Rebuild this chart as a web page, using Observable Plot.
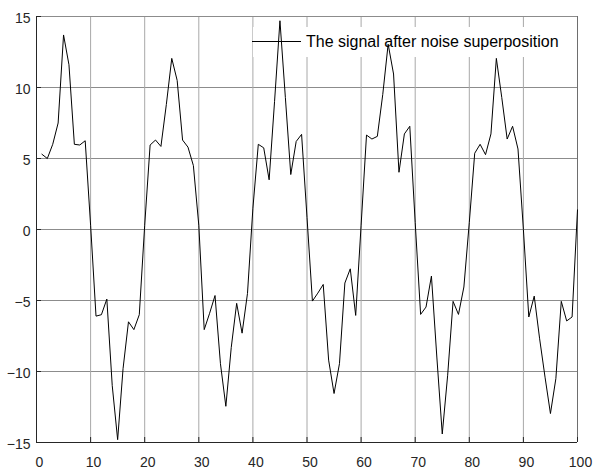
<!DOCTYPE html>
<html>
<head>
<meta charset="utf-8">
<script src="https://cdn.jsdelivr.net/npm/d3@7"></script>
<script src="https://cdn.jsdelivr.net/npm/@observablehq/plot@0.6"></script>
<style>
  html, body { margin: 0; padding: 0; background: #fff; }
  #chart { position: relative; width: 597px; height: 470px; }
  svg { display: block; }
</style>
</head>
<body>
<div id="chart"></div>
<script>
const sampleIndex = d3.range(1, 101);
const signalValues = [
  5.3, 5.0, 6.0, 7.5, 13.7, 11.6, 6.0, 5.95, 6.25, 0.3,
  -6.1, -6.0, -4.9, -11.0, -14.8, -9.8, -6.5, -7.05, -6.0, 0.3,
  5.95, 6.3, 5.85, 8.8, 12.05, 10.5, 6.3, 5.8, 4.5, 0.3,
  -7.05, -5.9, -4.65, -9.45, -12.45, -8.3, -5.2, -7.3, -4.5, 1.5,
  6.0, 5.75, 3.5, 9.0, 14.7, 9.3, 3.87, 6.2, 6.7, 0.85,
  -5.04, -4.48, -3.87, -9.2, -11.55, -9.45, -3.77, -2.77, -6.05, 0.3,
  6.65, 6.37, 6.56, 9.5, 13.05, 10.95, 4.03, 6.73, 7.27, 0.5,
  -5.98, -5.46, -3.28, -8.98, -14.4, -10.26, -5.06, -5.98, -4.05, 0.5,
  5.37, 6.0, 5.27, 6.73, 12.05, 9.3, 6.37, 7.27, 5.67, 0.0,
  -6.16, -4.69, -7.7, -10.4, -12.96, -10.5, -5.06, -6.44, -6.16, 1.38
];
const xTicks = [0, 10, 20, 30, 40, 50, 60, 70, 80, 90, 100];
const yTicks = [-15, -10, -5, 0, 5, 10, 15];
const legendLabel = "The signal after noise superposition";

const data = sampleIndex.map((x, i) => ({x, y: signalValues[i]}));

const font = "'Liberation Sans', Arial, sans-serif";

const chart = Plot.plot({
  width: 597,
  height: 470,
  marginLeft: 36,
  marginRight: 20,
  marginTop: 16,
  marginBottom: 28,
  style: {fontFamily: font, fontSize: "14px", color: "#262626", background: "#fff"},
  x: {domain: [0, 100], label: null},
  y: {domain: [-15, 15], label: null},
  marks: [
    Plot.gridY(yTicks, {stroke: "#8c8c8c", strokeOpacity: 1, strokeWidth: 1}),
    Plot.gridX(xTicks, {stroke: "#a8a8a8", strokeOpacity: 1, strokeWidth: 1}),
    Plot.ruleY([15], {stroke: "#8c8c8c"}),
    Plot.ruleX([100], {stroke: "#6e6e6e"}),
    Plot.line(data, {x: "x", y: "y", stroke: "#000", strokeWidth: 1}),
    Plot.axisX(xTicks, {label: null, tickSize: 0, tickPadding: 15, dx: 3, fontSize: 14, fill: "#262626"}),
    Plot.axisX(xTicks, {label: null, tickSize: 5, dy: -5, tickFormat: () => "", stroke: "#262626"}),
    Plot.axisY(yTicks, {label: null, tickSize: 0, tickPadding: 6, dy: 2, fontSize: 14, fill: "#262626"}),
    Plot.axisY(yTicks, {label: null, tickSize: 5, dx: 5, tickFormat: () => "", stroke: "#262626"}),
    Plot.ruleX([0], {stroke: "#262626"}),
    Plot.ruleY([-15], {stroke: "#262626"})
  ]
});

document.getElementById("chart").appendChild(chart);

// Legend: white background box behind the signal line, sample line and label on top
const svg = d3.select(chart);
const lineGroup = svg.select("g[aria-label='line']").node();
const bg = document.createElementNS("http://www.w3.org/2000/svg", "rect");
bg.setAttribute("x", 253);
bg.setAttribute("y", 27);
bg.setAttribute("width", 309);
bg.setAttribute("height", 30);
bg.setAttribute("fill", "#fff");
lineGroup.parentNode.insertBefore(bg, lineGroup);

const lg = svg.append("g").attr("class", "legend");
lg.append("line")
  .attr("x1", 252).attr("x2", 301).attr("y1", 41.5).attr("y2", 41.5)
  .attr("stroke", "#000").attr("stroke-width", 1);
lg.append("text")
  .attr("x", 306).attr("y", 41.5)
  .attr("dy", "0.35em")
  .attr("text-anchor", "start")
  .attr("font-family", font)
  .attr("font-size", 16)
  .attr("fill", "#000")
  .text(legendLabel);
</script>
</body>
</html>
